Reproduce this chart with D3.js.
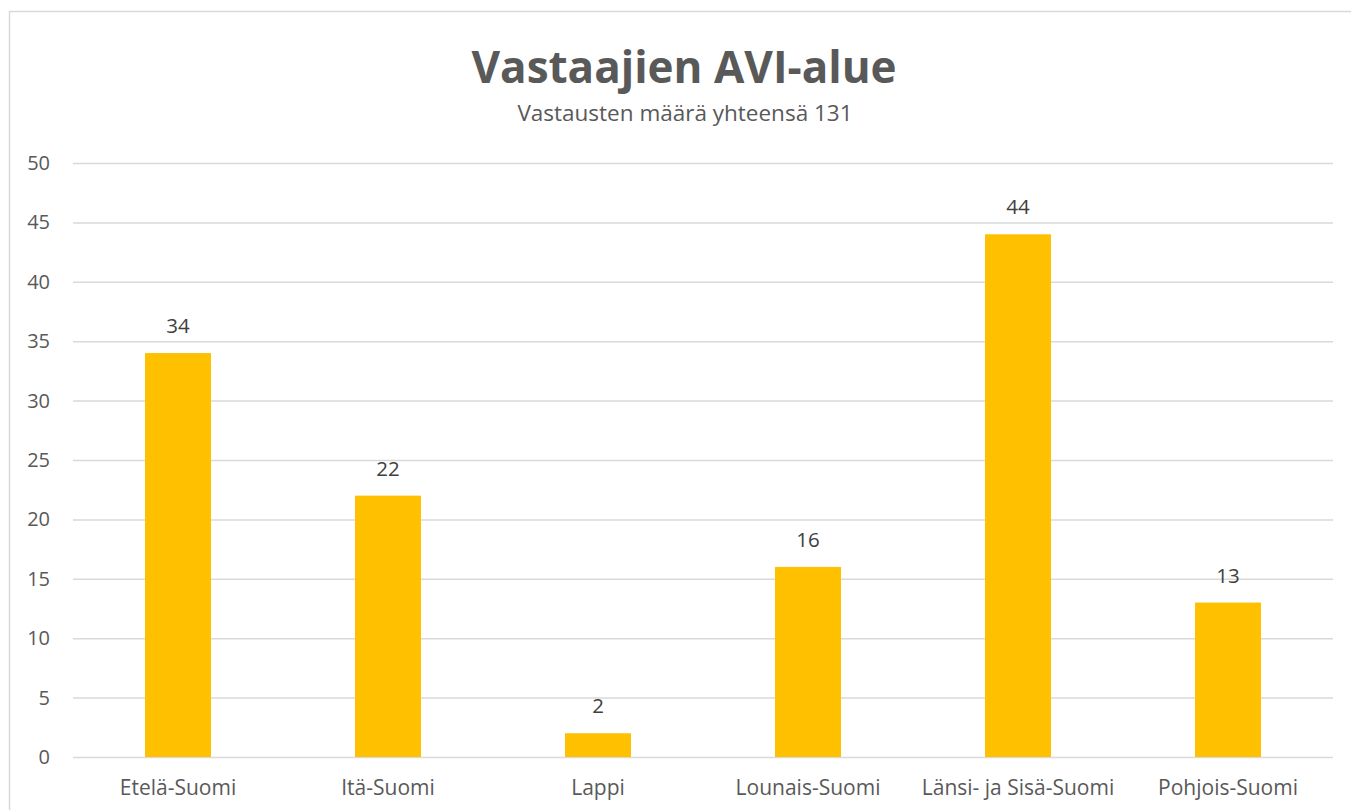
<!DOCTYPE html>
<html>
<head>
<meta charset="utf-8">
<script src="https://cdn.jsdelivr.net/npm/d3@7"></script>
<style>
    body { margin: 0; background: #fff; }
    text { font-family: "Open Sans", "Liberation Sans", sans-serif; }
</style>
</head>
<body>
<div id="chart"></div>
<script>
// Chart data
const categories = ["Etelä-Suomi", "Itä-Suomi", "Lappi", "Lounais-Suomi", "Länsi- ja Sisä-Suomi", "Pohjois-Suomi"];
const counts = [34, 22, 2, 16, 44, 13];
const yTicks = [0, 5, 10, 15, 20, 25, 30, 35, 40, 45, 50];

const svgWidth = 1351;
const svgHeight = 810;

const margin = { top: 163, right: 18, bottom: 53, left: 73 };
const width = svgWidth - margin.left - margin.right;
const height = svgHeight - margin.top - margin.bottom;

const svg = d3.select("#chart")
    .append("svg")
    .attr("width", svgWidth)
    .attr("height", svgHeight);

// chart border
svg.append("rect")
    .attr("x", 9.5)
    .attr("y", 11.5)
    .attr("width", svgWidth)
    .attr("height", svgHeight)
    .attr("fill", "none")
    .attr("stroke", "#d9d9d9")
    .attr("stroke-width", 1.5);

// Titles
svg.append("text")
    .attr("x", 684)
    .attr("y", 83)
    .attr("text-anchor", "middle")
    .attr("font-size", "44px")
    .attr("font-weight", "bold")
    .attr("fill", "#595959")
    .text("Vastaajien AVI-alue");

svg.append("text")
    .attr("x", 685)
    .attr("y", 121)
    .attr("text-anchor", "middle")
    .attr("font-size", "22.5px")
    .attr("fill", "#595959")
    .text("Vastausten määrä yhteensä 131");

const chartGroup = svg.append("g")
    .attr("transform", `translate(${margin.left}, ${margin.top})`);

// Scales
const xScale = d3.scaleBand()
    .domain(categories)
    .range([0, width])
    .paddingInner(0.686)
    .paddingOuter(0.343);

const yScale = d3.scaleLinear()
    .domain([0, 50])
    .range([height, 0]);

// Gridlines + y labels
const leftAxis = d3.axisLeft(yScale)
    .tickValues(yTicks)
    .tickSize(-width)
    .tickPadding(23);

const yAxisG = chartGroup.append("g").call(leftAxis);
yAxisG.select(".domain").remove();
yAxisG.selectAll("line").attr("stroke", "#d9d9d9").attr("stroke-width", 1.5);
yAxisG.selectAll("text")
    .attr("font-size", "20px")
    .attr("fill", "#595959");

// Bars
chartGroup.selectAll("rect.bar")
    .data(counts)
    .enter()
    .append("rect")
    .attr("class", "bar")
    .attr("x", (d, i) => xScale(categories[i]))
    .attr("y", d => yScale(d))
    .attr("width", xScale.bandwidth())
    .attr("height", d => height - yScale(d))
    .attr("fill", "#ffc000");

// Value labels
chartGroup.selectAll("text.val")
    .data(counts)
    .enter()
    .append("text")
    .attr("class", "val")
    .attr("x", (d, i) => xScale(categories[i]) + xScale.bandwidth() / 2)
    .attr("y", d => yScale(d) - 20)
    .attr("text-anchor", "middle")
    .attr("font-size", "20.5px")
    .attr("fill", "#404040")
    .text(d => d);

// x axis labels
const bottomAxis = d3.axisBottom(xScale).tickSize(0).tickPadding(23);
const xAxisG = chartGroup.append("g")
    .attr("transform", `translate(0, ${height})`)
    .call(bottomAxis);
xAxisG.select(".domain").remove();
xAxisG.selectAll("text")
    .attr("font-size", "21px")
    .attr("fill", "#595959");
</script>
</body>
</html>
